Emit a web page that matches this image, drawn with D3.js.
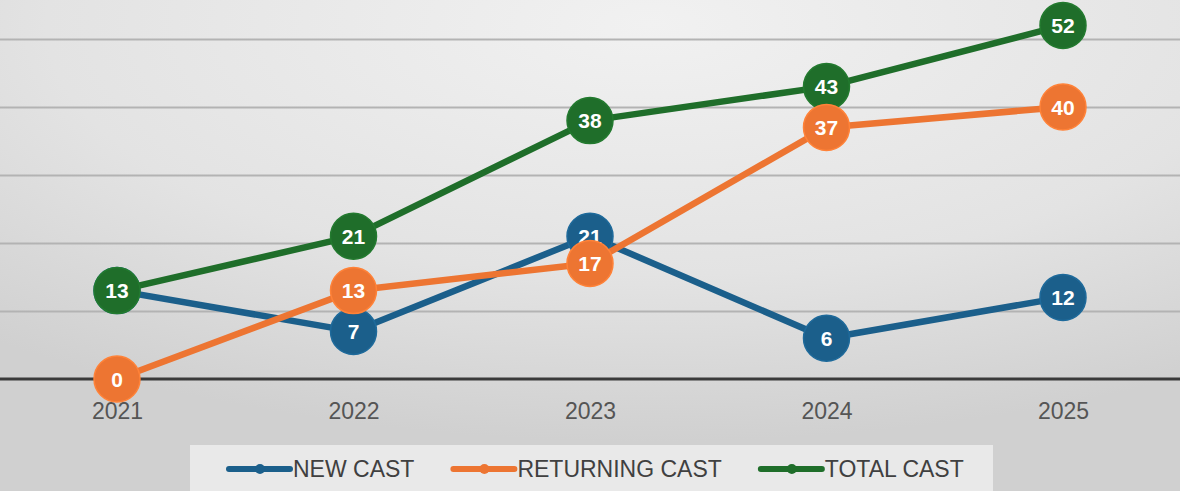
<!DOCTYPE html>
<html>
<head>
<meta charset="utf-8">
<script src="https://cdn.jsdelivr.net/npm/d3@7"></script>
<style>
  html, body { margin: 0; padding: 0; background: #dcdcdc; }
  svg { display: block; }
</style>
</head>
<body>
<div class="container"></div>
<script>
const WIDTH = 1180;
const HEIGHT = 491;

const years = ["2021", "2022", "2023", "2024", "2025"];
const newCast = [13, 7, 21, 6, 12];
const returningCast = [0, 13, 17, 37, 40];
const totalCast = [13, 21, 38, 43, 52];
const gridTicks = [10, 20, 30, 40, 50, 60];

const seriesNames = ["NEW CAST", "RETURNING CAST", "TOTAL CAST"];
const seriesColors = ["#1b5f8b", "#ed7532", "#1f6e2a"];

var xScale = d3.scalePoint()
    .domain(years)
    .range([117, 1063]);

var yScale = d3.scaleLinear()
    .domain([0, 60])
    .range([379, -29]);

var svg = d3.select('.container').append('svg')
    .attr('width', WIDTH)
    .attr('height', HEIGHT);

// background
var defs = svg.append('defs');
var bg = defs.append('radialGradient')
    .attr('id', 'bg')
    .attr('cx', 0.55).attr('cy', 0.05).attr('r', 0.85);
bg.append('stop').attr('offset', 0).attr('stop-color', '#f1f1f1');
bg.append('stop').attr('offset', 0.6).attr('stop-color', '#e3e3e3');
bg.append('stop').attr('offset', 1).attr('stop-color', '#d0d0d0');

svg.append('rect')
    .attr('width', WIDTH)
    .attr('height', HEIGHT)
    .attr('fill', 'url(#bg)');

// grid
var yAxis = d3.axisLeft(yScale)
    .tickValues(gridTicks)
    .tickSize(-WIDTH)
    .tickFormat('');

svg.append('g')
    .attr('class', 'grid')
    .call(yAxis)
    .call(function(g){
        g.select('.domain').remove();
        g.selectAll('.tick line')
            .attr('stroke', '#b3b3b3')
            .attr('stroke-width', 2);
    });

// baseline + year labels
var xAxis = d3.axisBottom(xScale).tickSize(0).tickPadding(24);

svg.append('g')
    .attr('transform', 'translate(0,' + yScale(0) + ')')
    .call(xAxis)
    .call(function(g){
        g.select('.domain').remove();
        g.selectAll('text')
            .attr('fill', '#555')
            .attr('font-family', 'Liberation Sans, Arial, sans-serif')
            .attr('font-size', 23);
    });

svg.append('line')
    .attr('x1', 0).attr('x2', WIDTH)
    .attr('y1', yScale(0)).attr('y2', yScale(0))
    .attr('stroke', '#3a3a3a')
    .attr('stroke-width', 3);

// series
var series = [
    {name: seriesNames[0], values: newCast, color: seriesColors[0]},
    {name: seriesNames[1], values: returningCast, color: seriesColors[1]},
    {name: seriesNames[2], values: totalCast, color: seriesColors[2]}
];

var line = d3.line()
    .x(function(d, i){ return xScale(years[i]); })
    .y(function(d){ return yScale(d); });

// drawing order: new, total, returning
var drawOrder = [series[0], series[2], series[1]];

drawOrder.forEach(function(s){
    var g = svg.append('g');

    g.append('path')
        .datum(s.values)
        .attr('d', line)
        .attr('fill', 'none')
        .attr('stroke', s.color)
        .attr('stroke-width', 6.5)
        .attr('stroke-linejoin', 'round');

    var pts = g.selectAll('g.pt')
        .data(s.values)
        .enter()
        .append('g')
        .attr('transform', function(d, i){
            return 'translate(' + xScale(years[i]) + ',' + yScale(d) + ')';
        });

    pts.append('circle')
        .attr('r', 23)
        .attr('fill', s.color)
        .attr('stroke', d3.color(s.color).brighter(0.3))
        .attr('stroke-width', 1.5);

    pts.append('text')
        .text(function(d){ return d; })
        .attr('text-anchor', 'middle')
        .attr('dy', '0.36em')
        .attr('fill', '#fff')
        .attr('font-family', 'Liberation Sans, Arial, sans-serif')
        .attr('font-weight', 'bold')
        .attr('font-size', 21);
});

// legend
svg.append('rect')
    .attr('x', 190).attr('y', 445)
    .attr('width', 803).attr('height', 50)
    .attr('fill', '#e9e9e9');

var lx = 229;
series.forEach(function(s){
    var g = svg.append('g');
    g.append('line')
        .attr('x1', lx).attr('x2', lx + 61)
        .attr('y1', 469).attr('y2', 469)
        .attr('stroke', s.color)
        .attr('stroke-width', 6)
        .attr('stroke-linecap', 'round');
    g.append('circle')
        .attr('cx', lx + 31).attr('cy', 469)
        .attr('r', 5)
        .attr('fill', s.color);
    var t = g.append('text')
        .attr('x', lx + 64).attr('y', 477)
        .attr('fill', '#404040')
        .attr('font-family', 'Liberation Sans, Arial, sans-serif')
        .attr('font-size', 23)
        .text(s.name);
    lx += 64 + t.node().getComputedTextLength() + 39;
});
</script>
</body>
</html>
